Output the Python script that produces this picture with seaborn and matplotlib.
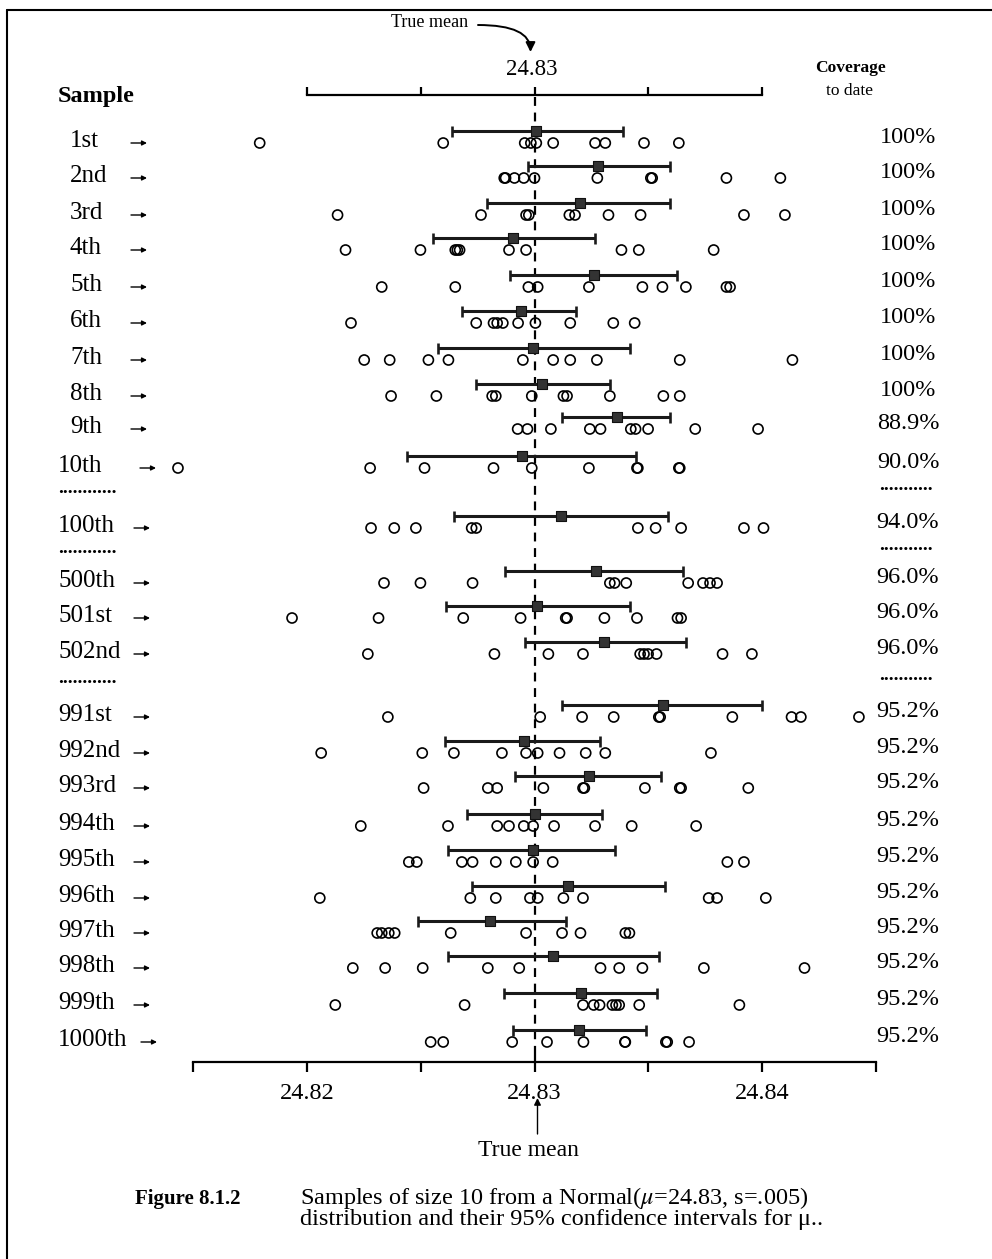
import numpy as np
import pandas as pd
import matplotlib
matplotlib.use("Agg")
import matplotlib.pyplot as plt
import seaborn as sns

# ---------------- data ----------------
sample_labels = ["1st", "2nd", "3rd", "4th", "5th", "6th", "7th", "8th", "9th", "10th",
                 "100th", "500th", "501st", "502nd",
                 "991st", "992nd", "993rd", "994th", "995th", "996th", "997th",
                 "998th", "999th", "1000th"]

coverage_labels = ["100%", "100%", "100%", "100%", "100%", "100%", "100%", "100%",
                   "88.9%", "90.0%", "94.0%", "96.0%", "96.0%", "96.0%",
                   "95.2%", "95.2%", "95.2%", "95.2%", "95.2%", "95.2%", "95.2%",
                   "95.2%", "95.2%", "95.2%"]

sample_values = [
    [24.81793, 24.82599, 24.82957, 24.82984, 24.83008, 24.83082, 24.83266, 24.83311, 24.83481, 24.83634],
    [24.82867, 24.82873, 24.82912, 24.82953, 24.83000, 24.83276, 24.83511, 24.83517, 24.83843, 24.84080],
    [24.82135, 24.82765, 24.82963, 24.82975, 24.83153, 24.83178, 24.83325, 24.83466, 24.83920, 24.84100],
    [24.82170, 24.82499, 24.82652, 24.82661, 24.82671, 24.82888, 24.82963, 24.83382, 24.83458, 24.83787],
    [24.82329, 24.82652, 24.82973, 24.83014, 24.83239, 24.83474, 24.83562, 24.83665, 24.83843, 24.83859],
    [24.82194, 24.82744, 24.82820, 24.82836, 24.82861, 24.82928, 24.83004, 24.83157, 24.83346, 24.83440],
    [24.82252, 24.82364, 24.82534, 24.82622, 24.82949, 24.83082, 24.83157, 24.83274, 24.83638, 24.84133],
    [24.82370, 24.82569, 24.82814, 24.82830, 24.82988, 24.83127, 24.83143, 24.83331, 24.83566, 24.83638],
    [24.82926, 24.82969, 24.83072, 24.83243, 24.83290, 24.83423, 24.83444, 24.83499, 24.83706, 24.83982],
    [24.81434, 24.82278, 24.82517, 24.82820, 24.82988, 24.83239, 24.83450, 24.83454, 24.83634, 24.83638],
    [24.82282, 24.82384, 24.82479, 24.82724, 24.82744, 24.83454, 24.83532, 24.83644, 24.83920, 24.84006],
    [24.82339, 24.82499, 24.82728, 24.83331, 24.83352, 24.83403, 24.83675, 24.83740, 24.83771, 24.83802],
    [24.81935, 24.82315, 24.82687, 24.82939, 24.83137, 24.83143, 24.83307, 24.83450, 24.83628, 24.83644],
    [24.82268, 24.82824, 24.83061, 24.83213, 24.83464, 24.83481, 24.83499, 24.83536, 24.83826, 24.83955],
    [24.82356, 24.83025, 24.83209, 24.83348, 24.83546, 24.83552, 24.83869, 24.84129, 24.84170, 24.84425],
    [24.82063, 24.82507, 24.82646, 24.82857, 24.82963, 24.83014, 24.83110, 24.83225, 24.83311, 24.83775],
    [24.82513, 24.82795, 24.82836, 24.83039, 24.83213, 24.83219, 24.83485, 24.83638, 24.83644, 24.83939],
    [24.82237, 24.82620, 24.82836, 24.82888, 24.82953, 24.82994, 24.83086, 24.83266, 24.83427, 24.83710],
    [24.82448, 24.82483, 24.82681, 24.82728, 24.82830, 24.82918, 24.82994, 24.83080, 24.83847, 24.83920],
    [24.82057, 24.82718, 24.82830, 24.82980, 24.83014, 24.83127, 24.83213, 24.83765, 24.83802, 24.84016],
    [24.82309, 24.82329, 24.82360, 24.82386, 24.82632, 24.82963, 24.83121, 24.83202, 24.83399, 24.83417],
    [24.82202, 24.82344, 24.82509, 24.82795, 24.82933, 24.83290, 24.83372, 24.83474, 24.83744, 24.84186],
    [24.82125, 24.82693, 24.83213, 24.83260, 24.83286, 24.83342, 24.83358, 24.83372, 24.83460, 24.83900],
    [24.82544, 24.82599, 24.82902, 24.83055, 24.83215, 24.83397, 24.83399, 24.83577, 24.83583, 24.83679],
]

ci_low = [24.82636, 24.82973, 24.82793, 24.82554, 24.82892, 24.82681, 24.82575, 24.82742, 24.83121, 24.82438,
          24.82646, 24.82871, 24.82611, 24.82957,
          24.83121, 24.82609, 24.82916, 24.82703, 24.82622, 24.82724, 24.82487, 24.82622, 24.82865, 24.82906]
ci_mean = [24.83008, 24.83280, 24.83202, 24.82906, 24.83260, 24.82939, 24.82994, 24.83035, 24.83362, 24.82943,
           24.83117, 24.83270, 24.83010, 24.83307,
           24.83566, 24.82953, 24.83239, 24.83000, 24.82994, 24.83147, 24.82806, 24.83080, 24.83205, 24.83194]
ci_high = [24.83389, 24.83597, 24.83597, 24.83266, 24.83628, 24.83184, 24.83419, 24.83331, 24.83593, 24.83444,
           24.83587, 24.83654, 24.83419, 24.83665,
           24.84000, 24.83286, 24.83556, 24.83297, 24.83352, 24.83573, 24.83137, 24.83546, 24.83536, 24.83489]

true_mean = 24.83
axis_ticks = [24.82, 24.83, 24.84]
axis_tick_labels = ["24.82", "24.83", "24.84"]
minor_ticks = [24.815, 24.825, 24.835, 24.845]
top_ticks = [24.82, 24.825, 24.83, 24.835, 24.84]

# ---------------- layout (pixels) ----------------
row_y = [143, 178, 215, 250, 287, 323, 360, 396, 429, 468, 528,
         583, 618, 654, 717, 753, 788, 826, 862, 898, 933, 968, 1005, 1042]
gap_y = [492, 552, 682]

W, H = 992, 1259
X0, X1 = 193, 876          # pixel positions of 24.815 and 24.845
AX_TOP, AX_BOT = 100, 1062
PX_PER_UNIT = (X1 - X0) / 0.03

sns.set_theme(style="white")
plt.rcParams["font.family"] = ["Liberation Serif", "DejaVu Serif"]
plt.rcParams["mathtext.fontset"] = "stix"
plt.rcParams["text.color"] = "black"
plt.rcParams["xtick.color"] = "black"

fig = plt.figure(figsize=(W / 100, H / 100), dpi=100)
fig.patch.set_facecolor("white")

bg = fig.add_axes([0, 0, 1, 1])
bg.set_xlim(0, W)
bg.set_ylim(H, 0)
bg.axis("off")

ax = fig.add_axes([X0 / W, 1 - AX_BOT / H, (X1 - X0) / W, (AX_BOT - AX_TOP) / H])
ax.patch.set_alpha(0)

# points
long_rows = []
for yy, vals in zip(row_y, sample_values):
    for v in vals:
        long_rows.append({"value": v, "y": yy})
df = pd.DataFrame(long_rows)
sns.scatterplot(data=df, x="value", y="y", marker="o", s=52, facecolor="none",
                edgecolor="black", linewidth=1.2, ax=ax, clip_on=False, legend=False, zorder=3)

# confidence intervals
ci_y = np.array(row_y) - 12
ax.hlines(ci_y, ci_low, ci_high, colors="#1a1a1a", lw=2.2, clip_on=False, zorder=4)
ax.vlines(ci_low, ci_y - 5.5, ci_y + 5.5, colors="#1a1a1a", lw=1.9, clip_on=False, zorder=4)
ax.vlines(ci_high, ci_y - 5.5, ci_y + 5.5, colors="#1a1a1a", lw=1.9, clip_on=False, zorder=4)
cidf = pd.DataFrame({"mean": ci_mean, "y": ci_y})
sns.scatterplot(data=cidf, x="mean", y="y", marker="s", s=42, color="#333333",
                edgecolor="#111111", linewidth=0.8, ax=ax, clip_on=False, legend=False, zorder=5)

# true mean dashed line
ax.vlines(true_mean, 97, 1054, colors="black", lw=1.6, linestyles=(0, (4, 3)), clip_on=False, zorder=2)
ax.vlines(true_mean, AX_BOT - 8, AX_BOT, colors="black", lw=1.6, clip_on=False)

ax.set_xlim(24.815, 24.845)
ax.set_ylim(AX_BOT, AX_TOP)
ax.set_xlabel("")
ax.set_ylabel("")
for s in ["top", "left", "right"]:
    ax.spines[s].set_visible(False)
ax.spines["bottom"].set_linewidth(1.6)
ax.spines["bottom"].set_color("black")
ax.set_yticks([])
ax.set_xticks(axis_ticks)
ax.set_xticklabels(axis_tick_labels)
ax.set_xticks(minor_ticks, minor=True)
ax.tick_params(axis="x", which="both", direction="out", length=7, width=1.6, bottom=True,
               color="black", labelsize=17.5, labelcolor="black", pad=8)

# top reference axis
x_left_top = X0 + (top_ticks[0] - 24.815) * PX_PER_UNIT
axt = fig.add_axes([x_left_top / W, 1 - 95 / H, (top_ticks[-1] - top_ticks[0]) * PX_PER_UNIT / W, 12 / H])
axt.patch.set_alpha(0)
axt.set_xlim(top_ticks[0], top_ticks[-1])
for s in ["top", "left", "right"]:
    axt.spines[s].set_visible(False)
axt.spines["bottom"].set_linewidth(1.6)
axt.spines["bottom"].set_color("black")
axt.set_xticks(top_ticks)
axt.set_xticklabels([])
axt.set_yticks([])
axt.tick_params(axis="x", direction="in", length=6, width=1.6, bottom=True, color="black")

xm = X0 + (true_mean - 24.815) * PX_PER_UNIT
bg.text(xm - 3, 69, "24.83", fontsize=16.5, ha="center", va="center")
bg.text(430, 22, "True mean", fontsize=13, ha="center", va="center")
bg.annotate("", xy=(xm - 4, 52), xytext=(478, 25),
            arrowprops=dict(arrowstyle="-|>", connectionstyle="angle3,angleA=0,angleB=90",
                            color="black", lw=1.4, mutation_scale=14, shrinkA=0, shrinkB=0))

# headers
bg.text(58, 96, "Sample", fontsize=17.5, fontweight="bold", ha="left", va="center")
bg.text(851, 68, "Coverage", fontsize=12.5, fontweight="bold", ha="center", va="center")
bg.text(849, 91, "to date", fontsize=12.5, ha="center", va="center")

# row labels, arrows, coverage
arrow_start = {3: 131, 4: 140, 5: 134, 6: 141}
for lab, yy, cov in zip(sample_labels, row_y, coverage_labels):
    xl = 70 if len(lab) == 3 else 58
    bg.text(xl, yy - 2, lab, fontsize=18, ha="left", va="center")
    xs = arrow_start[len(lab)]
    bg.annotate("", xy=(xs + 16, yy), xytext=(xs, yy),
                arrowprops=dict(arrowstyle="-|>", color="black", lw=1.0, mutation_scale=7,
                                shrinkA=0, shrinkB=0))
    bg.text(908, yy - 6, cov, fontsize=17.5, ha="center", va="center")

for gy in gap_y:
    bg.text(58, gy - 4, "............", fontsize=14, fontweight="bold", ha="left", va="center")
    bg.text(879, gy - 7, "...........", fontsize=14, fontweight="bold", ha="left", va="center")

# bottom annotation
bg.annotate("", xy=(xm + 3, 1098), xytext=(xm + 3, 1134),
            arrowprops=dict(arrowstyle="-|>", color="black", lw=1.0, mutation_scale=10,
                            shrinkA=0, shrinkB=0))
bg.text(528, 1150, "True mean", fontsize=17, ha="center", va="center")

# caption
bg.text(135, 1199, "Figure 8.1.2", fontsize=15, fontweight="bold", ha="left", va="center")
bg.text(300, 1198, r"Samples of size 10 from a Normal($\mu$=24.83, s=.005)", fontsize=17.5,
        ha="left", va="center")
bg.text(300, 1220, "distribution and their 95% confidence intervals for \u03bc..", fontsize=17.5,
        ha="left", va="center")

# frame
bg.plot([7, 7], [10, H], color="black", lw=1.5)
bg.plot([7, W], [10, 10], color="black", lw=1.5)

fig.savefig("out.png", dpi=100, facecolor="white")
